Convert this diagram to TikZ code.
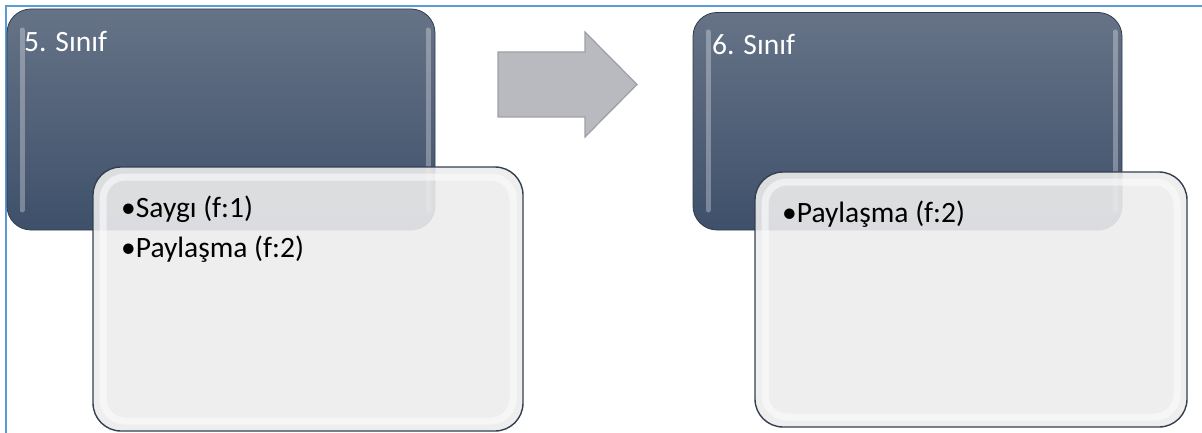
\documentclass[tikz,border=0pt]{standalone}
\usepackage{fontspec}
\setmainfont{Carlito}
\definecolor{darktop}{RGB}{102,115,135}
\definecolor{darkbot}{RGB}{62,80,106}
\definecolor{darkedge}{RGB}{48,60,78}
\definecolor{lightfill}{RGB}{236,236,236}
\definecolor{lightedge}{RGB}{52,63,80}
\definecolor{arrowfill}{RGB}{184,186,191}
\definecolor{arrowedge}{RGB}{158,160,165}
\definecolor{frameblue}{RGB}{91,155,213}
\tikzset{
  darkbox/.style={rectangle, rounded corners=24pt, inner sep=0pt, outer sep=0pt,
    top color=darktop, bottom color=darkbot, draw=darkedge, line width=0.8pt},
  lightbox/.style={rectangle, rounded corners=28pt, inner sep=0pt, outer sep=0pt,
    fill=lightfill, fill opacity=0.9, draw=lightedge, draw opacity=1, line width=1.4pt},
  lightrim/.style={rectangle, rounded corners=22pt, inner sep=0pt,
    draw=white, draw opacity=0.55, line width=7pt},
  gloss/.style={draw=white, draw opacity=0.3, line width=5pt, line cap=round},
  headtext/.style={anchor=base west, inner sep=0pt, text=white, font=\fontsize{29.5}{36}\selectfont},
  itemtext/.style={anchor=base west, inner sep=0pt, text=black, font=\fontsize{29.5}{36}\selectfont},
  flowarrow/.style={fill=arrowfill, draw=arrowedge, line width=1.2pt, line join=miter},
  frameline/.style={draw=frameblue, line width=1.6pt}
}
\begin{document}
\begin{tikzpicture}[x=1pt,y=1pt]
\useasboundingbox (0,0) rectangle (1202,-433);
% frame
\draw[frameline] (6,-433) -- (6,-6) -- (1202,-6);

% ---- 5. Sinif ----
\node[darkbox, minimum width=428pt, minimum height=221pt] (c5) at (221,-119.5) {};
\draw[gloss] (22,-30) -- (22,-210);
\draw[gloss] (428,-30) -- (428,-210);
\node[headtext] (t5) at (24,-52) {5. Sınıf};

\node[lightbox, minimum width=430pt, minimum height=264pt] (b5) at (308,-299) {};
\node[lightrim, minimum width=410pt, minimum height=244pt] (r5) at (b5.center) {};
\node[itemtext] (s1) at (121,-217) {\textbullet Saygı (f:1)};
\node[itemtext] (s2) at (121,-257) {\textbullet Paylaşma (f:2)};

% ---- arrow ----
\draw[flowarrow] (498,-52) -- (585,-52) -- (585,-32) -- (637,-84.5)
  -- (585,-137) -- (585,-117) -- (498,-117) -- cycle;

% ---- 6. Sinif ----
\node[darkbox, minimum width=429pt, minimum height=217.5pt] (c6) at (907.5,-121.25) {};
\draw[gloss] (708,-32) -- (708,-210);
\draw[gloss] (1115,-32) -- (1115,-210);
\node[headtext] (t6) at (712,-55) {6. Sınıf};

\node[lightbox, minimum width=432pt, minimum height=255pt] (b6) at (971,-299.5) {};
\node[lightrim, minimum width=412pt, minimum height=235pt] (r6) at (b6.center) {};
\node[itemtext] (p1) at (782,-222) {\textbullet Paylaşma (f:2)};
\end{tikzpicture}
\end{document}
